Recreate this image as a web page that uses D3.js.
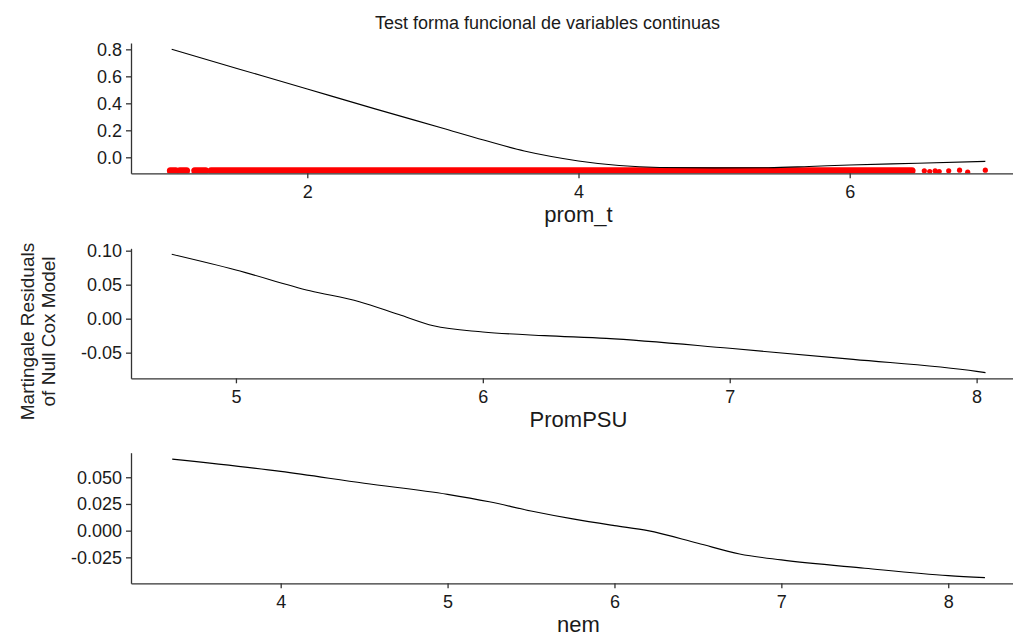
<!DOCTYPE html>
<html>
<head>
<meta charset="utf-8">
<script src="https://cdn.jsdelivr.net/npm/d3@7"></script>
<style>
  body { margin: 0; background: #fff; }
  text { font-family: "Liberation Sans", Arial, sans-serif; fill: #1a1a1a; }
</style>
</head>
<body>
<script>
// Martingale residual plots, one panel per continuous variable

var width = 1013;
var height = 637;

var title = "Test forma funcional de variables continuas";
var yTitle = ["Martingale Residuals", "of Null Cox Model"];

// prom_t smooth + residual points at the bottom
var promT_x = [1.0, 1.5, 2.0, 2.5, 3.0, 3.3, 3.6, 3.8, 4.0, 4.3, 4.6, 5.0, 5.4, 5.7, 6.0, 6.5, 7.0];
var promT_y = [0.80, 0.653, 0.506, 0.359, 0.215, 0.128, 0.047, 0.006, -0.027, -0.061, -0.075, -0.078, -0.077, -0.068, -0.057, -0.044, -0.03];
var promT_bands = [[0.99, 1.03], [1.06, 1.11], [1.17, 1.25], [1.29, 6.46]];
var promT_ptsX = [6.55, 6.59, 6.63, 6.66, 6.73, 6.81, 6.87, 7.0];
var promT_ptsY = [-0.1, -0.105, -0.1, -0.105, -0.1, -0.095, -0.11, -0.095];
var promT_xTicks = [2, 4, 6];
var promT_yTicks = [0.0, 0.2, 0.4, 0.6, 0.8];

// PromPSU
var promPSU_x = [4.74, 5.0, 5.3, 5.5, 5.66, 5.8, 6.0, 6.25, 6.5, 7.0, 7.5, 8.0, 8.036];
var promPSU_y = [0.0947, 0.0716, 0.041, 0.025, 0.006, -0.0105, -0.0195, -0.025, -0.029, -0.0436, -0.0598, -0.0775, -0.0794];
var promPSU_xTicks = [5, 6, 7, 8];
var promPSU_yTicks = [-0.05, 0.0, 0.05, 0.10];

// nem
var nem_x = [3.35, 4.0, 4.5, 5.0, 5.25, 5.5, 5.75, 6.0, 6.2, 6.5, 6.75, 7.0, 7.5, 8.0, 8.22];
var nem_y = [0.067, 0.0555, 0.0444, 0.034, 0.027, 0.0184, 0.011, 0.0047, 0.0, -0.0118, -0.0218, -0.0274, -0.0352, -0.0421, -0.044];
var nem_xTicks = [4, 5, 6, 7, 8];
var nem_yTicks = [-0.025, 0.0, 0.025, 0.050];

var panels = [
  { name: "prom_t", xs: promT_x, ys: promT_y, xDomain: [0.7, 7.3], yDomain: [-0.1185, 0.847],
    top: 43, bottom: 173.3, xTicks: promT_xTicks, yTicks: promT_yTicks, fmt: ".1f" },
  { name: "PromPSU", xs: promPSU_x, ys: promPSU_y, xDomain: [4.575, 8.2], yDomain: [-0.0877, 0.1035],
    top: 248.3, bottom: 378.3, xTicks: promPSU_xTicks, yTicks: promPSU_yTicks, fmt: ".2f" },
  { name: "nem", xs: nem_x, ys: nem_y, xDomain: [3.103, 8.466], yDomain: [-0.0493, 0.073],
    top: 452.7, bottom: 583.3, xTicks: nem_xTicks, yTicks: nem_yTicks, fmt: ".3f" }
];

var left = 131, right = 1026;

var svg = d3.select("body")
  .append("svg")
  .attr("width", width)
  .attr("height", height);

svg.append("text")
  .attr("x", 547.5)
  .attr("y", 29)
  .attr("text-anchor", "middle")
  .style("font-size", "18px")
  .text(title);

// shared y title, two lines rotated
var yt = svg.append("text")
  .attr("transform", "translate(0,331.5) rotate(-90)")
  .attr("text-anchor", "middle")
  .style("font-size", "19px")
  .style("fill", "#222");
yt.append("tspan").attr("x", 0).attr("y", 33.5).text(yTitle[0]);
yt.append("tspan").attr("x", 0).attr("y", 55.3).text(yTitle[1]);

panels.forEach(function(p, i) {
  var xScale = d3.scaleLinear().domain(p.xDomain).range([left, right]);
  var yScale = d3.scaleLinear().domain(p.yDomain).range([p.bottom, p.top]);
  var f = d3.format(p.fmt);

  var clipId = "clip" + i;
  svg.append("clipPath").attr("id", clipId)
    .append("rect")
    .attr("x", left).attr("y", p.top)
    .attr("width", right - left).attr("height", p.bottom - p.top);

  var plot = svg.append("g").attr("clip-path", "url(#" + clipId + ")");

  if (i === 0) {
    // dense runs of residual points
    plot.selectAll("line.band")
      .data(promT_bands)
      .enter()
      .append("line")
      .attr("class", "band")
      .attr("x1", function(d) { return xScale(d[0]); })
      .attr("x2", function(d) { return xScale(d[1]); })
      .attr("y1", yScale(-0.1))
      .attr("y2", yScale(-0.1))
      .attr("stroke", "#ff0000")
      .attr("stroke-width", 7)
      .attr("stroke-linecap", "round");

    plot.selectAll("circle")
      .data(promT_ptsX)
      .enter()
      .append("circle")
      .attr("cx", function(d) { return xScale(d); })
      .attr("cy", function(d, j) { return yScale(promT_ptsY[j]); })
      .attr("r", 2.6)
      .attr("fill", "#ff0000");
  }

  var line = d3.line()
    .x(function(d) { return xScale(d[0]); })
    .y(function(d) { return yScale(d[1]); })
    .curve(d3.curveMonotoneX);

  plot.append("path")
    .datum(d3.zip(p.xs, p.ys))
    .attr("d", line)
    .attr("fill", "none")
    .attr("stroke", "#000")
    .attr("stroke-width", 1.1);

  var xAxis = d3.axisBottom(xScale)
    .tickValues(p.xTicks)
    .tickFormat(d3.format("d"))
    .tickSize(5)
    .tickSizeOuter(0)
    .tickPadding(6.5);

  var yAxis = d3.axisLeft(yScale)
    .tickValues(p.yTicks)
    .tickFormat(function(d) { return f(d).replace("\u2212", "-"); })
    .tickSize(5)
    .tickSizeOuter(0)
    .tickPadding(4);

  var gx = svg.append("g")
    .attr("transform", "translate(0," + p.bottom + ")")
    .call(xAxis);
  var gy = svg.append("g")
    .attr("transform", "translate(" + left + ",0)")
    .call(yAxis);

  [gx, gy].forEach(function(g) {
    g.selectAll("path, line").attr("stroke", "#333").attr("stroke-width", 1.3);
    g.selectAll("text")
      .style("font-family", "Liberation Sans, Arial, sans-serif")
      .style("font-size", "18px")
      .style("fill", "#1a1a1a");
  });

  svg.append("text")
    .attr("x", (left + right) / 2)
    .attr("y", p.bottom + 49)
    .attr("text-anchor", "middle")
    .style("font-size", "22px")
    .text(p.name);
});
</script>
</body>
</html>
